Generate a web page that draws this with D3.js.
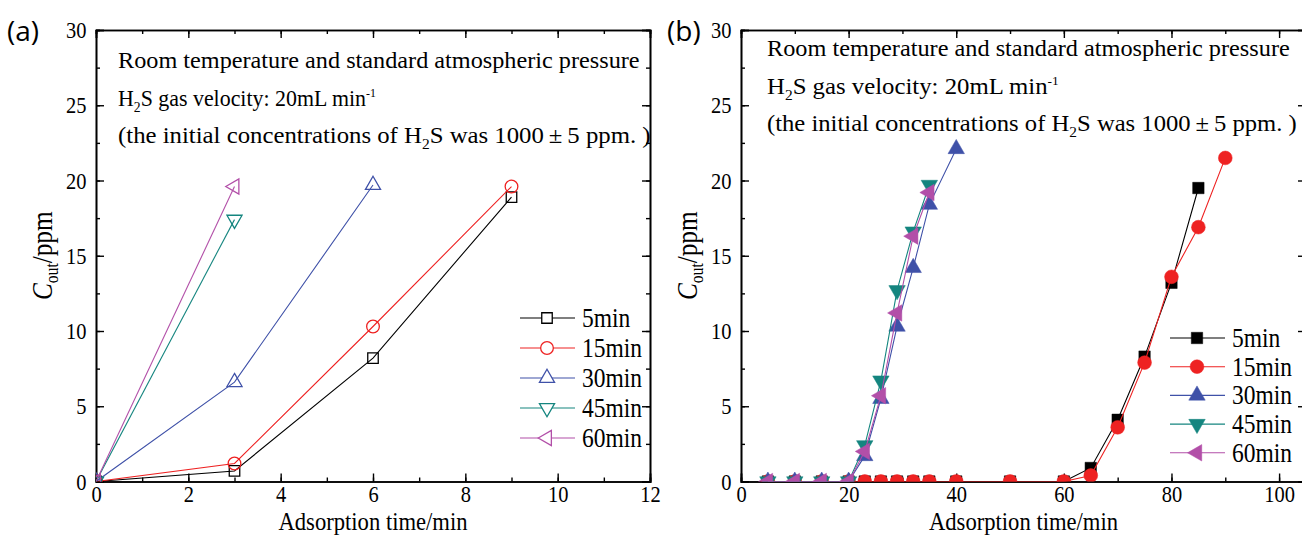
<!DOCTYPE html>
<html>
<head>
<meta charset="utf-8">
<script src="https://cdn.jsdelivr.net/npm/d3@7"></script>
<style>
  body { margin: 0; background: #fff; }
  svg { display: block; }
  text { font-family: "Liberation Serif", "Times New Roman", serif; }
</style>
</head>
<body>
<svg id="chart"></svg>
<script>
const width = 1302, height = 536;

// series names / colours
const names = ["5min", "15min", "30min", "45min", "60min"];
const colors = ["#000000", "#ee2222", "#3f51a8", "#14857f", "#b24fa8"];

// panel (a): open markers
const timeA = [0, 3, 6, 9];
const a5 = [0, 0.7, 8.2, 18.9];
const a15 = [0, 1.2, 10.3, 19.6];
const a30 = [0, 6.6, 19.7];
const a45 = [0, 17.4];
const a60 = [0, 19.6];

// panel (b): filled markers
const timeB = [5, 10, 15, 20, 23, 26, 29, 32, 35, 40, 50, 60, 65, 70, 75, 80, 85, 90];
const b5 = [0, 0, 0, 0, 0, 0, 0, 0, 0, 0, 0, 0, 0.9, 4.1, 8.3, 13.2, 19.5];
const b15 = [0, 0, 0, 0, 0, 0, 0, 0, 0, 0, 0, 0, 0.4, 3.6, 7.9, 13.6, 16.9, 21.5];
const b30 = [0, 0, 0, 0, 1.7, 5.5, 10.3, 14.2, 18.4, 22.1];
const b45 = [0, 0, 0, 0, 2.4, 6.7, 12.7, 16.6, 19.7];
const b60 = [0, 0, 0, 0, 2.0, 5.7, 11.2, 16.3, 19.2];

const yTicks = [0, 5, 10, 15, 20, 25, 30];
const xTicksA = [0, 2, 4, 6, 8, 10, 12];
const xTicksB = [0, 20, 40, 60, 80, 100];

const svg = d3.select('#chart').attr('width', width).attr('height', height);
const squeeze = 0.87; // the original font is a condensed Times

function marker(i, size) {
  const types = [d3.symbolSquare, d3.symbolCircle, d3.symbolTriangle, d3.symbolTriangle, d3.symbolTriangle];
  const areas = [size * 1.0, size * 1.15, size * 0.9, size * 0.9, size * 0.9];
  return d3.symbol().type(types[i]).size(areas[i])();
}
const rot = [0, 0, 0, 180, -90];

// squeeze a text line horizontally so it spans w pixels
function fitTo(t, x0, y0, w) {
  const natural = t.node().getComputedTextLength();
  t.attr('transform', `translate(${x0},${y0}) scale(${w / natural},1)`);
}

function panel(o) {
  const g = svg.append('g');
  const x = d3.scaleLinear().domain(o.xdom).range([o.left, o.right]);
  const y = d3.scaleLinear().domain([0, 30]).range([o.bottom, o.top]);

  const clipId = 'clip' + o.id;
  svg.append('clipPath').attr('id', clipId).append('rect')
    .attr('x', o.left).attr('y', o.top).attr('width', o.right - o.left).attr('height', o.bottom - o.top);

  // frame + inward ticks on all sides
  const minorX = d3.range(o.xdom[0], o.xdom[1] + 0.001, o.xminor);
  const minorY = d3.range(0, 30.001, 2.5);
  g.append('g').attr('transform', `translate(0,${o.bottom})`)
    .call(d3.axisBottom(x).tickValues(minorX).tickSize(-4).tickFormat(''));
  g.append('g').attr('class', 'lab').attr('transform', `translate(0,${o.bottom})`)
    .call(d3.axisBottom(x).tickValues(o.xticks).tickSize(-8).tickPadding(4).tickFormat(d3.format('d')));
  g.append('g').attr('transform', `translate(0,${o.top})`)
    .call(d3.axisTop(x).tickValues(minorX).tickSize(-4).tickFormat(''));
  g.append('g').attr('transform', `translate(0,${o.top})`)
    .call(d3.axisTop(x).tickValues(o.xticks).tickSize(-8).tickFormat(''));
  g.append('g').attr('transform', `translate(${o.left},0)`)
    .call(d3.axisLeft(y).tickValues(minorY).tickSize(-4).tickFormat(''));
  g.append('g').attr('class', 'lab').attr('transform', `translate(${o.left},0)`)
    .call(d3.axisLeft(y).tickValues(yTicks).tickSize(-8).tickPadding(11).tickFormat(d3.format('d')));
  g.append('g').attr('transform', `translate(${o.right},0)`)
    .call(d3.axisRight(y).tickValues(minorY).tickSize(-4).tickFormat(''));
  g.append('g').attr('transform', `translate(${o.right},0)`)
    .call(d3.axisRight(y).tickValues(yTicks).tickSize(-8).tickFormat(''));
  g.selectAll('.domain').attr('stroke', '#000').attr('stroke-width', 1.6);
  g.selectAll('.tick line').attr('stroke', '#000').attr('stroke-width', 1.4);
  g.selectAll('.lab .tick text').attr('fill', '#000').style('font-size', '23.5px')
    .style('font-family', '"Liberation Serif", serif')
    .attr('transform', `scale(${squeeze},1)`);

  // data
  const plot = g.append('g').attr('clip-path', `url(#${clipId})`);
  o.series.forEach((vals, i) => {
    const pts = vals.map((v, k) => [o.times[k], v]);
    plot.append('path').datum(pts)
      .attr('fill', 'none').attr('stroke', colors[i]).attr('stroke-width', 1.1)
      .attr('d', d3.line().x(d => x(d[0])).y(d => y(d[1])));
    plot.selectAll(null).data(pts).enter().append('path')
      .attr('d', marker(i, o.msize))
      .attr('transform', d => `translate(${x(d[0])},${y(d[1])}) rotate(${rot[i]})`)
      .attr('fill', o.filled ? colors[i] : 'none')
      .attr('stroke', colors[i]).attr('stroke-width', o.filled ? 0.5 : 1.3);
  });

  // legend
  names.forEach((n, i) => {
    const ly = o.legY + i * o.legStep;
    g.append('line').attr('x1', o.legX).attr('x2', o.legX + 55).attr('y1', ly).attr('y2', ly)
      .attr('stroke', colors[i]).attr('stroke-width', 1.1);
    g.append('path').attr('d', marker(i, o.msize))
      .attr('transform', `translate(${o.legX + 27},${ly}) rotate(${rot[i]})`)
      .attr('fill', o.filled ? colors[i] : '#fff')
      .attr('stroke', colors[i]).attr('stroke-width', o.filled ? 0.5 : 1.3);
    g.append('text').attr('transform', `translate(${o.legX + 62},${ly + 9}) scale(${squeeze},1)`)
      .style('font-size', '27px').text(n);
  });

  // annotation
  const t1 = g.append('text').style('font-size', '24px')
    .text('Room temperature and standard atmospheric pressure');
  fitTo(t1, o.noteX, o.noteY, o.noteW[0]);
  const t2 = g.append('text').style('font-size', '24px');
  t2.append('tspan').text('H');
  t2.append('tspan').attr('dy', 6).style('font-size', '15px').text('2');
  t2.append('tspan').attr('dy', -6).text('S gas velocity: 20mL min');
  t2.append('tspan').attr('dy', -9).style('font-size', '13px').text('-1');
  fitTo(t2, o.noteX, o.noteY + 37.5, o.noteW[1]);
  const t3 = g.append('text').style('font-size', '24px');
  t3.append('tspan').text('(the initial concentrations of H');
  t3.append('tspan').attr('dy', 6).style('font-size', '15px').text('2');
  t3.append('tspan').attr('dy', -6).text('S was 1000\u2009\u00b1\u20095 ppm. )');
  fitTo(t3, o.noteX, o.noteY + 75, o.noteW[2]);

  // axis titles
  g.append('text')
    .attr('transform', `translate(${(o.left + o.right) / 2},530) scale(${squeeze},1)`)
    .attr('text-anchor', 'middle').style('font-size', '26px').text('Adsorption time/min');
  const yl = g.append('text')
    .attr('transform', `translate(${o.ylabX},${(o.top + o.bottom) / 2}) rotate(-90) scale(${squeeze},1)`)
    .attr('text-anchor', 'middle').style('font-size', '29px');
  yl.append('tspan').style('font-style', 'italic').text('C');
  yl.append('tspan').attr('dy', 6).style('font-size', '18px').text('out');
  yl.append('tspan').attr('dy', -6).text('/ppm');

  // panel letter
  svg.append('text').attr('x', o.letX).attr('y', 41)
    .style('font-family', '"Open Sans", "DejaVu Sans", sans-serif').style('font-size', '28px')
    .text(o.letter);
}

panel({
  id: 'a', letter: '(a)', letX: 7,
  xdom: [0, 12], xticks: xTicksA, xminor: 1,
  left: 96, right: 650, top: 30, bottom: 481.5,
  times: timeA, series: [a5, a15, a30, a45, a60], filled: false, msize: 110,
  legX: 520, legY: 318, legStep: 30,
  noteX: 118, noteY: 68, noteW: [522, 258, 533],
  ylabX: 52
});

panel({
  id: 'b', letter: '(b)', letX: 667,
  xdom: [0, 105], xticks: xTicksB, xminor: 10,
  left: 741, right: 1306, top: 30, bottom: 481.5,
  times: timeB, series: [b5, b15, b30, b45, b60], filled: true, msize: 130,
  legX: 1170, legY: 338, legStep: 28.7,
  noteX: 767, noteY: 56, noteW: [523, 292, 530],
  ylabX: 697
});
</script>
</body>
</html>
